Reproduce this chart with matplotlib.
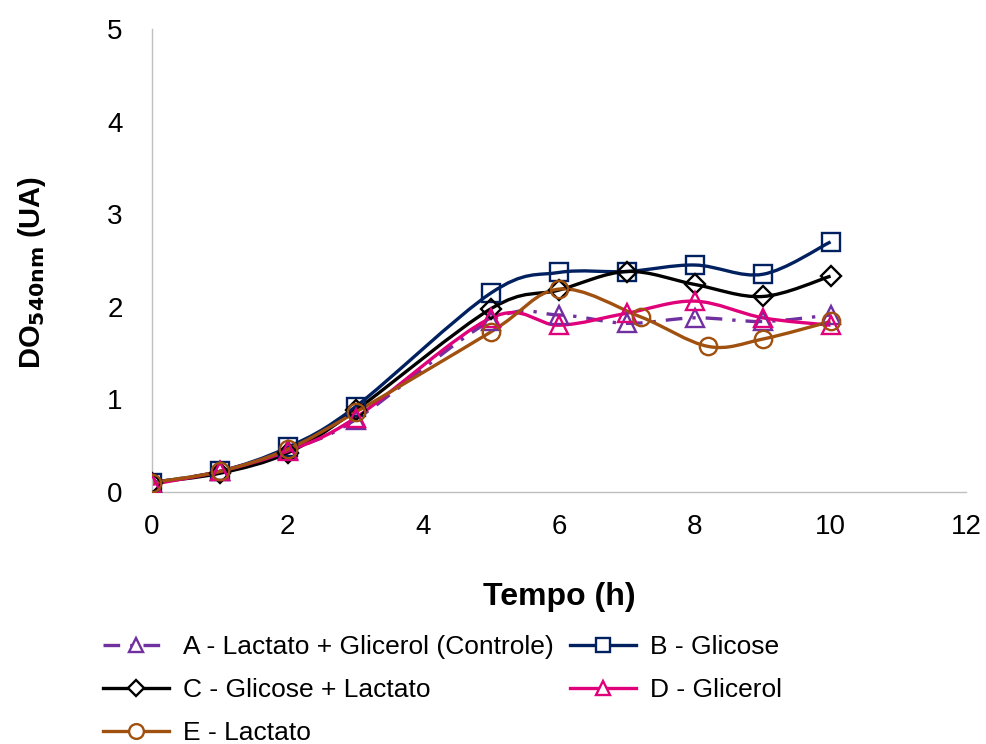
import numpy as np
import matplotlib.pyplot as plt
from matplotlib.path import Path
from matplotlib.patches import PathPatch
from matplotlib.lines import Line2D

plt.rcParams['font.family'] = ['Liberation Sans', 'DejaVu Sans']

# dados
t_std = [0, 1, 2, 3, 5, 6, 7, 8, 9, 10]
a_ctrl = [0.10, 0.22, 0.45, 0.78, 1.85, 1.91, 1.82, 1.88, 1.84, 1.91]
b_glic = [0.10, 0.22, 0.48, 0.92, 2.15, 2.37, 2.38, 2.45, 2.35, 2.70]
c_glic_lac = [0.10, 0.20, 0.42, 0.88, 1.98, 2.18, 2.38, 2.24, 2.11, 2.33]
d_glicerol = [0.08, 0.22, 0.44, 0.80, 1.88, 1.80, 1.93, 2.06, 1.88, 1.80]
t_lac = [0, 1, 2, 3, 5, 6, 7.2, 8.2, 9, 10]
e_lac = [0.10, 0.22, 0.46, 0.86, 1.73, 2.19, 1.89, 1.57, 1.65, 1.84]


def smooth_path(x, y):
    # curva suavizada tipo Excel (Bezier com tangentes de Catmull-Rom)
    x = np.asarray(x, float)
    y = np.asarray(y, float)
    n = len(x)
    verts = [(x[0], y[0])]
    codes = [Path.MOVETO]
    for i in range(n - 1):
        x0, y0 = (x[i - 1], y[i - 1]) if i > 0 else (x[i], y[i])
        x3, y3 = (x[i + 2], y[i + 2]) if i + 2 < n else (x[i + 1], y[i + 1])
        c1 = (x[i] + (x[i + 1] - x0) / 6, y[i] + (y[i + 1] - y0) / 6)
        c2 = (x[i + 1] - (x3 - x[i]) / 6, y[i + 1] - (y3 - y[i]) / 6)
        verts += [c1, c2, (x[i + 1], y[i + 1])]
        codes += [Path.CURVE4] * 3
    return Path(verts, codes)


fig = plt.figure(figsize=(9.87, 7.44), dpi=100)
ax = fig.add_axes([0.154, 0.339, 0.825, 0.622])

series = [
    (t_std, a_ctrl, '#7030A0', (0, (5, 3, 1, 3)), '^', 'A - Lactato + Glicerol (Controle)'),
    (t_std, b_glic, '#002060', '-', 's', 'B - Glicose'),
    (t_std, c_glic_lac, 'black', '-', 'D', 'C - Glicose + Lactato'),
    (t_std, d_glicerol, '#E0007A', '-', '^', 'D - Glicerol'),
    (t_lac, e_lac, '#A0500F', '-', 'o', 'E - Lactato'),
]

handles = {}
for x, y, col, ls, mk, lab in series:
    ax.add_patch(PathPatch(smooth_path(x, y), facecolor='none', edgecolor=col,
                           lw=2.4, linestyle=ls, zorder=2))
    ms = 10 if mk == 'D' else 12.5
    ax.plot(x, y, linestyle='none', marker=mk, ms=ms, mfc='none', mec=col,
            mew=1.7, zorder=3)
    handles[lab] = Line2D([], [], color=col, lw=2.4, linestyle=ls, marker=mk,
                          ms=ms * 0.85, mfc='white', mec=col, mew=1.7)

ax.set_xlim(0, 12)
ax.set_ylim(0, 5)
ax.set_xticks(range(0, 13, 2))
ax.set_yticks(range(0, 6))
ax.tick_params(length=0, labelsize=20)
ax.tick_params(axis='x', pad=16)
ax.tick_params(axis='y', pad=21)
for s in ['top', 'right']:
    ax.spines[s].set_visible(False)
for s in ['left', 'bottom']:
    ax.spines[s].set_color('#BFBFBF')
    ax.spines[s].set_linewidth(1)

ax.set_xlabel('Tempo (h)', fontsize=23, fontweight='bold', labelpad=30)
ax.set_ylabel(r'DO$_{\mathbf{540nm}}$ (UA)', fontsize=21, fontweight='bold')
ax.yaxis.set_label_coords(-0.128, 0.475)

ordem = ['A - Lactato + Glicerol (Controle)', 'C - Glicose + Lactato', 'E - Lactato',
         'B - Glicose', 'D - Glicerol']
fig.legend([handles[k] for k in ordem], ordem, ncol=2, frameon=False,
           fontsize=19, loc='upper left', bbox_to_anchor=(0.104, 0.146),
           handlelength=2.5, handletextpad=0.55, columnspacing=0.6,
           labelspacing=0.72, borderaxespad=0, borderpad=0)

fig.savefig('out.png', dpi=100)
